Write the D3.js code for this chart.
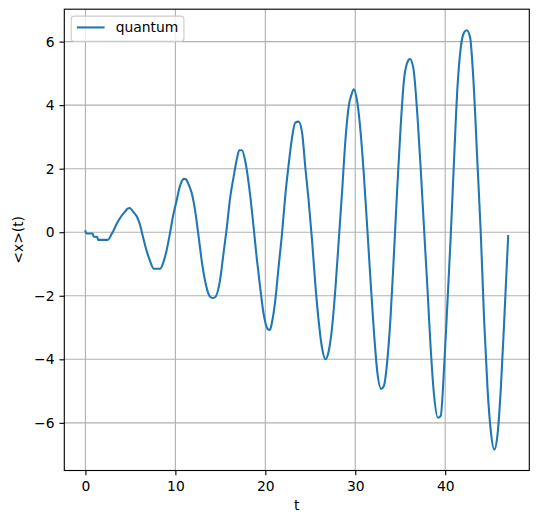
<!DOCTYPE html>
<html>
<head>
<meta charset="utf-8">
<script src="https://cdn.jsdelivr.net/npm/d3@7"></script>
<style>
  html, body { margin: 0; padding: 0; background: #fff; }
  svg { display: block; font-family: "DejaVu Sans", sans-serif; }
</style>
</head>
<body>
<svg id="chart" width="542" height="522"></svg>
<script>
const tValues = [0, 0.1, 0.8, 0.9, 1.3, 1.4, 2.5, 2.9, 3.1, 3.45, 4.0, 4.4, 4.7, 4.9, 5.1, 5.3, 5.7, 6.05, 6.4, 6.8,
  7.2, 7.6, 8.3, 8.65, 9.0, 9.4, 9.77, 10.14, 10.5, 10.96, 11.2, 11.44, 11.8, 12.2, 12.55, 12.93, 13.3, 13.78, 14.1, 14.4,
  14.97, 15.34, 15.72, 16.09, 16.46, 16.83, 17.1, 17.4, 17.76, 18.3, 18.7, 19.06, 19.43, 19.8, 20.3, 20.5, 20.73, 21.1, 21.47, 21.85,
  22.2, 22.6, 22.97, 23.33, 23.7, 24.08, 24.45, 24.82, 25.2, 25.56, 25.93, 26.3, 26.68, 27.05, 27.42, 27.8, 28.16, 28.54, 28.9, 29.28,
  29.6, 29.84, 30.2, 30.58, 30.95, 31.33, 31.7, 32.07, 32.44, 32.89, 33.18, 33.56, 33.92, 34.3, 34.67, 35.04, 35.41, 35.78, 36.08, 36.45,
  36.9, 37.27, 37.64, 38.02, 38.38, 38.75, 39.2, 39.5, 39.87, 40.25, 40.6, 40.98, 41.36, 41.73, 42.1, 42.4, 42.77, 43.14, 43.59, 43.96,
  44.33, 44.7, 45.07, 45.45, 45.82, 46.19, 46.56, 47.0];
const xValues = [0.03, -0.04, -0.04, -0.14, -0.14, -0.24, -0.24, -0.06, 0.04, 0.25, 0.51, 0.65, 0.74, 0.76, 0.72, 0.65, 0.5, 0.25, -0.15, -0.58,
  -0.92, -1.15, -1.15, -0.96, -0.6, -0.03, 0.55, 1.0, 1.45, 1.68, 1.66, 1.52, 1.25, 0.67, -0.06, -0.9, -1.53, -2.0, -2.07, -2.05,
  -1.5, -0.69, 0.15, 1.09, 1.72, 2.3, 2.58, 2.58, 2.25, 1.2, 0.15, -0.85, -1.75, -2.55, -3.06, -3.08, -2.85, -2.16, -1.11, -0.06,
  1.09, 2.14, 2.98, 3.45, 3.48, 3.15, 2.03, 0.99, -0.27, -1.64, -2.79, -3.63, -4.0, -3.74, -3.0, -1.74, -0.27, 1.3, 2.88, 3.98,
  4.35, 4.5, 4.14, 3.19, 1.83, 0.15, -1.53, -3.11, -4.37, -4.93, -4.84, -4.05, -2.69, -0.69, 1.4, 3.29, 4.77, 5.34, 5.45, 5.18,
  3.72, 2.03, 0.15, -1.74, -3.63, -5.1, -5.84, -5.78, -4.3, -2.2, -0.2, 2.25, 4.55, 5.81, 6.29, 6.36, 6.13, 4.77, 2.14, -0.06,
  -2.79, -4.89, -6.26, -6.84, -6.36, -4.89, -2.79, -0.12];
const xTicks = [0, 10, 20, 30, 40];
const yTicks = [-6, -4, -2, 0, 2, 4, 6];
const seriesName = "quantum";
const xLabel = "t";
const yLabel = "<x>(t)";

const data = tValues.map((t, i) => ({ t: t, v: xValues[i] }));

const svg = d3.select("#chart");
const mLeft = 64.3, mTop = 9.2, plotW = 465, plotH = 461.3;
const pt = 100 / 72;
const fontSize = 10 * pt;
const color = "#1f77b4";

const tExt = d3.extent(tValues), vExt = d3.extent(xValues);
const tPad = (tExt[1] - tExt[0]) * 0.05, vPad = (vExt[1] - vExt[0]) * 0.05;
const xScale = d3.scaleLinear().domain([tExt[0] - tPad, tExt[1] + tPad]).range([mLeft, mLeft + plotW]);
const yScale = d3.scaleLinear().domain([vExt[0] - vPad, vExt[1] + vPad]).range([mTop + plotH, mTop]);

const fmt = d => String(d).replace("-", "\u2212");

// grid
const g = svg.append("g");
g.selectAll("line.gx").data(xTicks).join("line")
  .attr("x1", d => xScale(d)).attr("x2", d => xScale(d))
  .attr("y1", mTop).attr("y2", mTop + plotH)
  .attr("stroke", "#b0b0b0").attr("stroke-width", 0.8 * pt);
g.selectAll("line.gy").data(yTicks).join("line")
  .attr("y1", d => yScale(d)).attr("y2", d => yScale(d))
  .attr("x1", mLeft).attr("x2", mLeft + plotW)
  .attr("stroke", "#b0b0b0").attr("stroke-width", 0.8 * pt);

// line
const line = d3.line().x(d => xScale(d.t)).y(d => yScale(d.v)).curve(d3.curveMonotoneX);
svg.append("path").datum(data)
  .attr("d", line).attr("fill", "none")
  .attr("stroke", color).attr("stroke-width", 1.5 * pt)
  .attr("stroke-linejoin", "round").attr("stroke-linecap", "square");

// axes
const tickLen = 3.5 * pt;
const xAxis = d3.axisBottom(xScale).tickValues(xTicks).tickFormat(fmt).tickSize(tickLen).tickPadding(tickLen);
const yAxis = d3.axisLeft(yScale).tickValues(yTicks).tickFormat(fmt).tickSize(tickLen).tickPadding(tickLen);
const gx = svg.append("g").attr("transform", `translate(0,${mTop + plotH})`).call(xAxis);
const gy = svg.append("g").attr("transform", `translate(${mLeft},0)`).call(yAxis);
[gx, gy].forEach(a => {
  a.select(".domain").remove();
  a.selectAll(".tick line").attr("stroke", "#000").attr("stroke-width", 0.8 * pt);
  a.selectAll(".tick text").attr("fill", "#000").attr("font-size", fontSize)
    .attr("font-family", "DejaVu Sans, sans-serif");
});
gx.selectAll(".tick text").attr("dy", "0.76em");

// frame
svg.append("rect").attr("x", mLeft).attr("y", mTop).attr("width", plotW).attr("height", plotH)
  .attr("fill", "none").attr("stroke", "#000").attr("stroke-width", 0.8 * pt);

// axis labels
svg.append("text").attr("x", mLeft + plotW / 2).attr("y", 510)
  .attr("text-anchor", "middle").attr("font-size", fontSize).text(xLabel);
svg.append("text").attr("transform", `translate(22.5,${mTop + plotH / 2}) rotate(-90)`)
  .attr("text-anchor", "middle").attr("font-size", fontSize).text(yLabel);

// legend
const lg = svg.append("g");
const lx = mLeft + 0.5 * fontSize, ly = mTop + 0.5 * fontSize;
const box = lg.append("rect");
const txt = lg.append("text").attr("font-size", fontSize)
  .attr("x", lx + 0.4 * fontSize + 2 * fontSize + 0.8 * fontSize).attr("y", ly + 16.2)
  .text(seriesName);
const tw = txt.node().getComputedTextLength();
const bw = 0.4 * fontSize * 2 + 2 * fontSize + 0.8 * fontSize + tw;
box.attr("x", lx).attr("y", ly).attr("width", bw).attr("height", 25.2)
  .attr("rx", 0.2 * fontSize).attr("fill", "#fff").attr("fill-opacity", 0.8)
  .attr("stroke", "#cccccc").attr("stroke-width", 0.8 * pt);
lg.append("line").attr("x1", lx + 0.4 * fontSize).attr("x2", lx + 0.4 * fontSize + 2 * fontSize)
  .attr("y1", ly + 11.3).attr("y2", ly + 11.3)
  .attr("stroke", color).attr("stroke-width", 1.5 * pt);
txt.raise();
</script>
</body>
</html>
